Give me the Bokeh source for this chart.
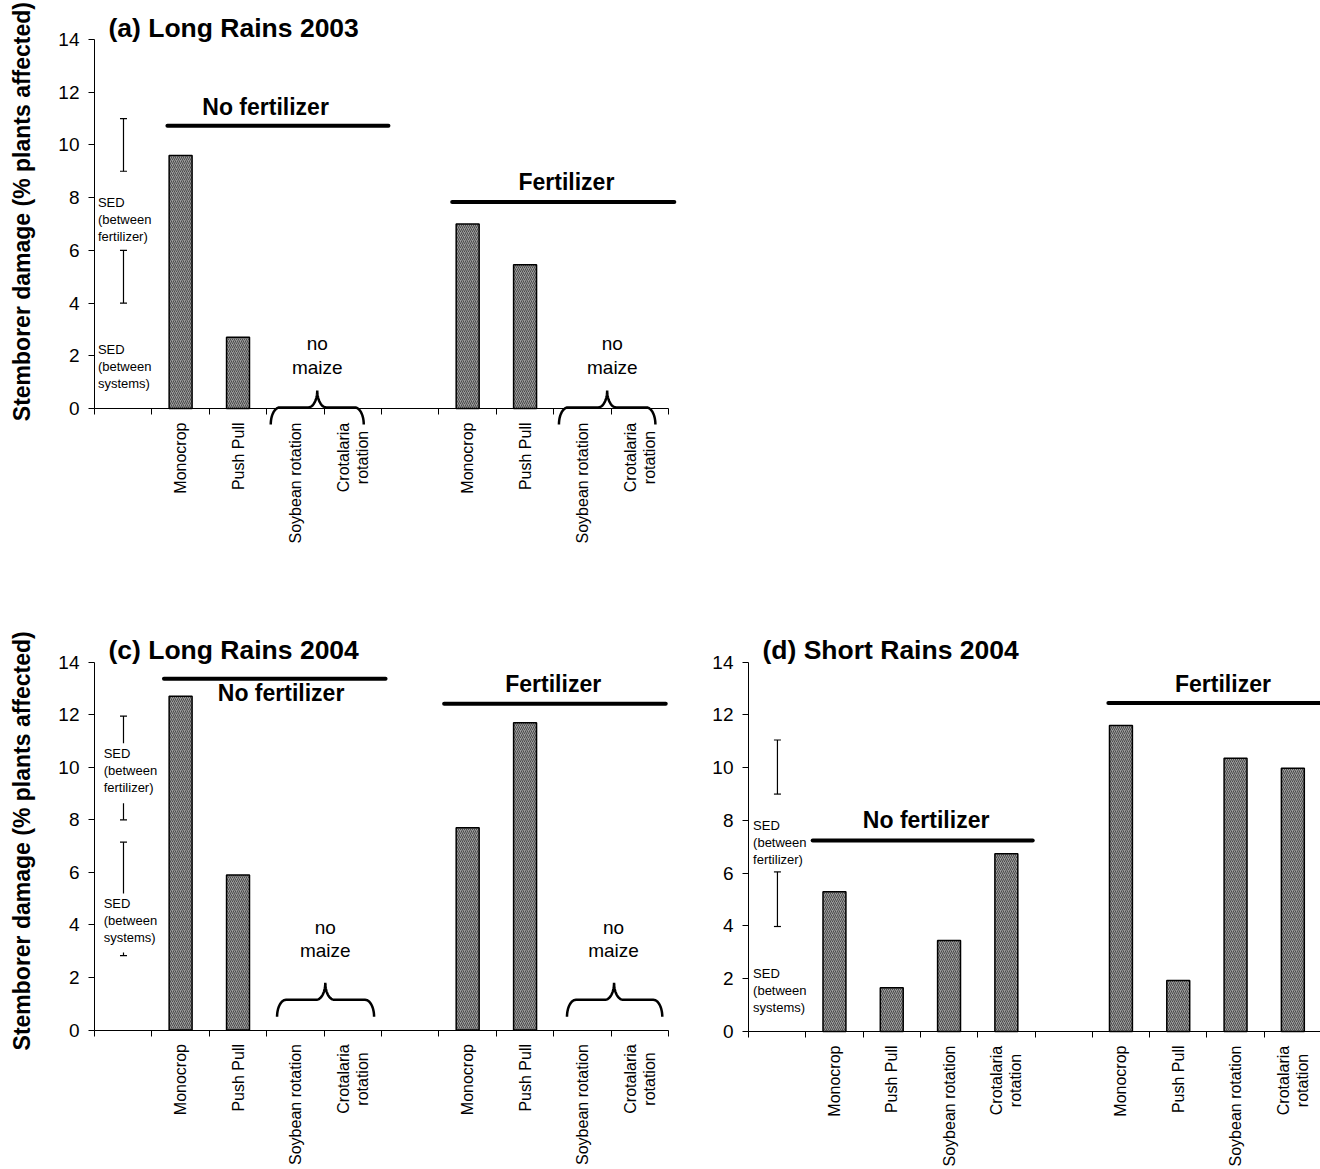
import math

from bokeh.embed import file_html
from bokeh.layouts import column, row
from bokeh.models import FixedTicker, Label, Range1d
from bokeh.plotting import figure
from bokeh.resources import INLINE

FONT = "Liberation Sans"

# ---- data -------------------------------------------------------------
systems = ["Monocrop", "Push Pull", "Soybean rotation", "Crotalaria rotation"]
system_label_lines = [["Monocrop"], ["Push Pull"], ["Soybean rotation"], ["Crotalaria", "rotation"]]
y_ticks = [0, 2, 4, 6, 8, 10, 12, 14]

# stemborer damage (% plants affected); None = no maize grown
a_no_fert = [9.6, 2.7, None, None]
a_fert = [7.0, 5.45, None, None]
c_no_fert = [12.7, 5.9, None, None]
c_fert = [7.7, 11.7, None, None]
d_no_fert = [5.3, 1.66, 3.45, 6.74]
d_fert = [11.6, 1.93, 10.36, 9.98]

# standard errors of difference, drawn as (low, high) bars
a_sed_fert = (9.0, 11.0)
a_sed_sys = (4.0, 6.0)
c_sed_fert = (8.0, 11.95)
c_sed_sys = (2.83, 7.15)
d_sed_fert = (9.0, 11.05)
d_sed_sys = (3.98, 6.05)

# slot layout along x: 0 = SED, 1-4 = no fertilizer, 5 = gap, 6-9 = fertilizer
NOFERT_SLOTS = [1, 2, 3, 4]
FERT_SLOTS = [6, 7, 8, 9]
SLOT_EDGES = list(range(11))

BAR_FILL = "#9b9b9b"
HATCH = "#4a4a4a"


def brace_path(xl, xr, xc, yh, sx, sy, rise=17, drop=17, rx=9, n=14):
    """Curly brace opening downwards, tip pointing up at xc."""
    rxu, ru, du = rx / sx, rise / sy, drop / sy
    xs, ys = [], []
    for i in range(n + 1):
        t = math.pi / 2 * i / n
        xs.append(xl + rxu - rxu * math.cos(t)); ys.append(yh - du + du * math.sin(t))
    for i in range(n + 1):
        t = math.pi / 2 * i / n
        xs.append(xc - rxu + rxu * math.sin(t)); ys.append(yh + ru - ru * math.cos(t))
    for i in range(n + 1):
        t = math.pi / 2 * i / n
        xs.append(xc + rxu - rxu * math.cos(t)); ys.append(yh + ru - ru * math.sin(t))
    for i in range(n + 1):
        t = math.pi / 2 * i / n
        xs.append(xr - rxu + rxu * math.sin(t)); ys.append(yh - du + du * math.cos(t))
    return xs, ys


def label(p, x, y, text, size, bold=False, **kw):
    p.add_layout(Label(x=x, y=y, text=text, text_font=FONT, text_font_size=size,
                       text_font_style="bold" if bold else "normal",
                       text_color="black", **kw))


def make_panel(spec):
    W, H = spec["width"], spec["height"]
    ox, oy, sx, sy = spec["ox"], spec["oy"], spec["sx"], spec["sy"]
    # the frame fills the whole canvas; axes sit at fixed data locations
    p = figure(width=W, height=H,
               x_range=Range1d(-ox / sx, (W - ox) / sx),
               y_range=Range1d((oy - H) / sy, oy / sy),
               output_backend="svg", toolbar_location=None, title=None,
               min_border=0, min_border_left=0, min_border_right=0,
               min_border_top=0, min_border_bottom=0)
    p.outline_line_color = None
    p.background_fill_color = "white"
    p.border_fill_color = "white"
    p.xgrid.visible = False
    p.ygrid.visible = False

    # x axis: tick marks between categories only (names are drawn below)
    xa = p.xaxis[0]
    xa.ticker = FixedTicker(ticks=[], minor_ticks=SLOT_EDGES)
    xa.fixed_location = 0
    xa.bounds = (0, 10)
    xa.major_tick_out = 0
    xa.major_tick_in = 0
    xa.minor_tick_out = 6
    xa.minor_tick_in = 0
    xa.axis_line_color = "black"
    xa.minor_tick_line_color = "black"

    ya = p.yaxis[0]
    ya.ticker = FixedTicker(ticks=y_ticks, minor_ticks=[])
    ya.fixed_location = 0
    ya.bounds = (0, 14)
    ya.major_tick_out = 6
    ya.major_tick_in = 0
    ya.minor_tick_out = 0
    ya.major_label_standoff = 9
    ya.major_label_text_font = FONT
    ya.major_label_text_font_size = "19px"
    ya.major_label_text_color = "black"
    ya.axis_line_color = "black"
    ya.major_tick_line_color = "black"

    # bars
    xs, tops = [], []
    for slots, vals in ((NOFERT_SLOTS, spec["no_fert"]), (FERT_SLOTS, spec["fert"])):
        for s, v in zip(slots, vals):
            if v is not None:
                xs.append(s + 0.5)
                tops.append(v)
    p.vbar(x=xs, top=tops, bottom=0, width=0.4, fill_color=BAR_FILL,
           hatch_pattern="/", hatch_color=HATCH, hatch_scale=4, hatch_weight=1,
           line_color="black", line_width=1.5)

    # SED bars
    sed_x = 0.505
    cap = 3.5 / sx
    lows = [spec["sed_fert"][0], spec["sed_sys"][0]]
    highs = [spec["sed_fert"][1], spec["sed_sys"][1]]
    p.segment(x0=[sed_x] * 2, x1=[sed_x] * 2, y0=lows, y1=highs, line_color="black", line_width=1.2)
    p.segment(x0=[sed_x - cap] * 4, x1=[sed_x + cap] * 4, y0=lows + highs, y1=lows + highs,
              line_color="black", line_width=1.2)

    step = 17 / sy
    sed_texts = [["SED", "(between", "fertilizer)"], ["SED", "(between", "systems)"]]
    if spec.get("sed_gaps"):
        tops_g = [g[0] for g in spec["sed_gaps"]]
        bots_g = [g[1] for g in spec["sed_gaps"]]
        p.quad(left=[sed_x - 0.2] * 2, right=[sed_x + 0.2] * 2, top=tops_g, bottom=bots_g,
               fill_color="white", line_color=None)
    for first, lines in zip(spec["sed_text_y"], sed_texts):
        for i, t in enumerate(lines):
            label(p, spec["sed_text_x"], first - i * step, t, "13px",
                  text_align="left", text_baseline="middle")

    # treatment group bars and names (text given by baseline; drawn centred on caps)
    for name, (x0, x1, y), (tx, ty) in spec["groups"]:
        p.line([x0, x1], [y, y], line_color="black", line_width=4, line_cap="round")
        label(p, tx, ty + 0.36 * 23 / sy, name, "23px", bold=True,
              text_align="center", text_baseline="middle")

    # "no maize" braces
    for xl, xr, xc, yh in spec["braces"]:
        bx, by = brace_path(xl, xr, xc, yh, sx, sy)
        p.line(bx, by, line_color="black", line_width=2.5)
    for tx, y1, y2 in spec["no_maize"]:
        label(p, tx, y1, "no", "19px", text_align="center", text_baseline="middle")
        label(p, tx, y2, "maize", "19px", text_align="center", text_baseline="middle")

    # category labels below the axis
    for slots in (NOFERT_SLOTS, FERT_SLOTS):
        for s, lines in zip(slots, system_label_lines):
            cx = s + 0.5
            if len(lines) == 1:
                label(p, cx, -14 / sy, lines[0], "16px", angle=math.pi / 2,
                      text_align="right", text_baseline="middle")
            else:
                for i, t in enumerate(lines):
                    label(p, cx + (i - 0.5) * 19 / sx, -49 / sy, t, "16px", angle=math.pi / 2,
                          text_align="center", text_baseline="middle")

    # panel title
    label(p, 14 / sx, 14 + (2.2 + 0.36 * 26.5) / sy, spec["title"], "26.5px", bold=True,
          text_align="left", text_baseline="middle")

    # y axis title
    if spec.get("ytitle_y") is not None:
        label(p, -(ox - 21) / sx, spec["ytitle_y"],
              "Stemborer damage (% plants affected)", "23px", bold=True,
              angle=math.pi / 2, text_align="center", text_baseline="middle")
    return p


panel_a = make_panel(dict(
    width=700, height=622, ox=94, oy=408, sx=57.41, sy=26.36,
    title="(a) Long Rains 2003", no_fert=a_no_fert, fert=a_fert,
    sed_fert=a_sed_fert, sed_sys=a_sed_sys, sed_text_x=0.06, sed_text_y=[7.83, 2.23],
    groups=[("No fertilizer", (1.27, 5.12, 10.73), (2.98, 11.12)),
            ("Fertilizer", (6.23, 10.1, 7.83), (8.22, 8.27))],
    braces=[(3.07, 4.69, 3.88, 0.04), (8.09, 9.77, 8.93, 0.04)],
    no_maize=[(3.88, 2.45, 1.55), (9.02, 2.45, 1.55)],
    ytitle_y=7.47,
))

panel_c = make_panel(dict(
    width=700, height=546, ox=94, oy=407.5, sx=57.41, sy=26.27,
    title="(c) Long Rains 2004", no_fert=c_no_fert, fert=c_fert,
    sed_fert=c_sed_fert, sed_sys=c_sed_sys, sed_text_x=0.16, sed_text_y=[10.54, 4.82],
    sed_gaps=[(10.92, 8.63), (5.2, 2.95)],
    groups=[("No fertilizer", (1.21, 5.07, 13.37), (3.25, 12.5)),
            ("Fertilizer", (6.09, 9.95, 12.42), (7.99, 12.84))],
    braces=[(3.18, 4.87, 4.02, 1.15), (8.23, 9.89, 9.05, 1.15)],
    no_maize=[(4.02, 3.9, 3.02), (9.04, 3.9, 3.02)],
    ytitle_y=7.2,
))

panel_d = make_panel(dict(
    width=620, height=546, ox=48, oy=409, sx=57.3, sy=26.38,
    title="(d) Short Rains 2004", no_fert=d_no_fert, fert=d_fert,
    sed_fert=d_sed_fert, sed_sys=d_sed_sys, sed_text_x=0.08, sed_text_y=[7.8, 2.18],
    groups=[("No fertilizer", (1.12, 4.96, 7.24), (3.10, 7.7)),
            ("Fertilizer", (6.28, 10.3, 12.45), (8.28, 12.86))],
    braces=[], no_maize=[],
    ytitle_y=None,
))

layout = column(panel_a, row(panel_c, panel_d))

with open("out.html", "w") as f:
    f.write(file_html(layout, INLINE))
